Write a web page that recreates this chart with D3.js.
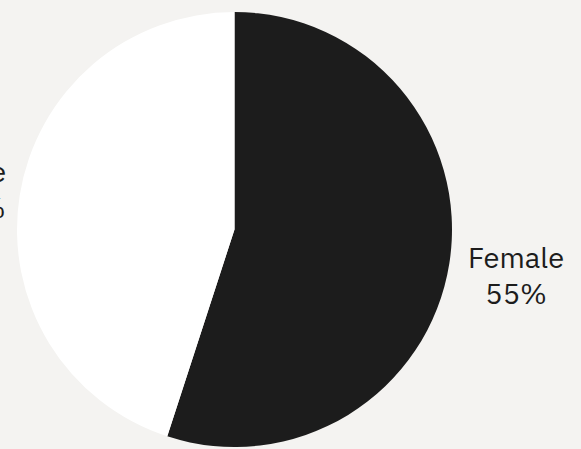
<!DOCTYPE html>
<html>
<head>
<meta charset="utf-8">
<script src="https://cdn.jsdelivr.net/npm/d3@7"></script>
<style>
  html, body { margin: 0; padding: 0; background: #f4f3f1; overflow: hidden; }
</style>
</head>
<body>
<svg id="chart" width="581" height="449"></svg>
<script>
// Gender split
const labels = ["Female", "Male"];
const shares = [55, 45];
const colours = ["#1c1c1c", "#ffffff"];

var svg = d3.select("svg#chart");

const cx = 234.5, cy = 229.5;
const radius = 217.5;

var pie = d3.pie().sort(null).value(d => d.value);
var arcs = pie(labels.map((l, i) => ({ label: l, value: shares[i], colour: colours[i] })));

var arc = d3.arc().innerRadius(0).outerRadius(radius);
// labels sit a bit outside the pie
var labelArc = d3.arc().innerRadius(274).outerRadius(274);

var g = svg.append("g").attr("transform", "translate(" + cx + "," + cy + ")");

g.selectAll("path")
  .data(arcs)
  .enter()
  .append("path")
  .attr("d", arc)
  .style("fill", d => d.data.colour);

var lab = g.append("g")
  .attr("transform", "translate(11,2)")
  .selectAll("text")
  .data(arcs)
  .enter()
  .append("text")
  .attr("text-anchor", "middle")
  .attr("transform", d => "translate(" + labelArc.centroid(d) + ")")
  .style("font-family", "'IBM Plex Sans', 'Noto Sans', sans-serif")
  .style("font-size", "29px")
  .style("fill", "#1c1c1c");

lab.append("tspan").attr("x", 0).attr("dy", "-0.22em").text(d => d.data.label);
lab.append("tspan").attr("x", 0).attr("dy", "1.24em").text(d => d.data.value + "%");
</script>
</body>
</html>
